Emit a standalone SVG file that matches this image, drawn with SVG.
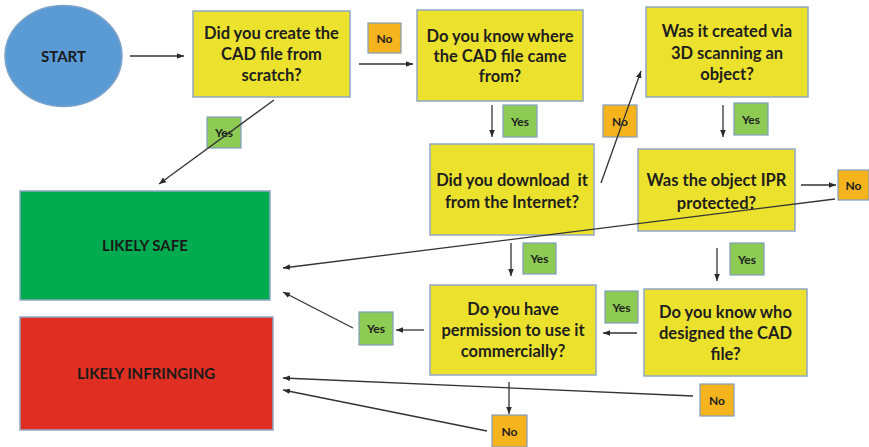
<svg xmlns="http://www.w3.org/2000/svg" width="869" height="447" viewBox="0 0 869 447">
<defs>
<marker id="ah" markerWidth="8" markerHeight="8" refX="7" refY="4" orient="auto" markerUnits="userSpaceOnUse">
<path d="M0,1.2 L7,4 L0,6.8 Z" fill="#2b2b2b"/>
</marker>
</defs>
<style>
.q{fill:#ECE22E;stroke:#8FA8C4;stroke-width:1.5}
.yes{fill:#8DCB55;stroke:#7F9DBF;stroke-width:1.2}
.no{fill:#F5B41E;stroke:#7F9DBF;stroke-width:1.2}
.t{font-family:Lato,"Liberation Sans",sans-serif;font-weight:bold;font-size:16.5px;fill:#1e1e1e;text-anchor:middle}
.s{font-family:Lato,"Liberation Sans",sans-serif;font-weight:bold;font-size:12px;fill:#1e1e1e;text-anchor:middle}
.big{font-family:Lato,"Liberation Sans",sans-serif;font-weight:bold;font-size:15px;fill:#1a1a1a;text-anchor:middle}
.c{stroke:#333;stroke-width:1.3;fill:none;marker-end:url(#ah)}
</style>
<rect width="869" height="447" fill="#fff"/>
<g id="start">
<ellipse cx="63.5" cy="56" rx="58.5" ry="50.5" fill="#5B9BD5" stroke="#7FA3C8" stroke-width="1.5"/>
<text class="big" x="63.5" y="62" font-size="16.5">START</text>
</g>
<g id="q1">
<rect class="q" x="193" y="11" width="157" height="86"/>
<text class="t" x="271.5" y="39">Did you create the</text>
<text class="t" x="271.5" y="60">CAD file from</text>
<text class="t" x="271.5" y="81">scratch?</text>
</g>
<g id="q2">
<rect class="q" x="417" y="10" width="166" height="91"/>
<text class="t" x="500" y="42">Do you know where</text>
<text class="t" x="500" y="62">the CAD file came</text>
<text class="t" x="500" y="82">from?</text>
</g>
<g id="q3">
<rect class="q" x="430" y="144" width="164" height="91"/>
<text class="t" x="512" y="186">Did you download&#160; it</text>
<text class="t" x="512" y="208">from the Internet?</text>
</g>
<g id="q4">
<rect class="q" x="646" y="7" width="162" height="90"/>
<text class="t" x="727" y="37">Was it created via</text>
<text class="t" x="727" y="59">3D scanning an</text>
<text class="t" x="727" y="80">object?</text>
</g>
<g id="q5">
<rect class="q" x="638" y="149" width="157" height="82"/>
<text class="t" x="716.5" y="186">Was the object IPR</text>
<text class="t" x="716.5" y="209">protected?</text>
</g>
<g id="q6">
<rect class="q" x="430" y="285" width="166" height="90"/>
<text class="t" x="513" y="315">Do you have</text>
<text class="t" x="513" y="336">permission to use it</text>
<text class="t" x="513" y="357">commercially?</text>
</g>
<g id="q7">
<rect class="q" x="644" y="289" width="163" height="87"/>
<text class="t" x="725.5" y="318">Do you know who</text>
<text class="t" x="725.5" y="339">designed the CAD</text>
<text class="t" x="725.5" y="360">file?</text>
</g>
<g id="safe">
<rect x="20" y="191" width="250" height="109" fill="#00AC4F" stroke="#8FA8C4" stroke-width="1.5"/>
<text class="big" x="145" y="251">LIKELY SAFE</text>
</g>
<g id="infringing">
<rect x="20" y="317" width="253" height="113" fill="#DE2F22" stroke="#8FA8C4" stroke-width="1.5"/>
<text class="big" x="146" y="379">LIKELY INFRINGING</text>
</g>
<g id="labels">
<g id="no1"><rect class="no" x="368" y="23" width="33" height="30"/><text class="s" x="384.5" y="42.5">No</text></g>
<g id="yes1"><rect class="yes" x="207" y="117" width="34" height="31"/><text class="s" x="224" y="137">Yes</text></g>
<g id="yes2"><rect class="yes" x="503" y="105" width="34" height="32"/><text class="s" x="520" y="125.5">Yes</text></g>
<g id="no2"><rect class="no" x="603" y="105" width="34" height="32"/><text class="s" x="620" y="125.5">No</text></g>
<g id="yes3"><rect class="yes" x="734" y="103" width="34" height="32"/><text class="s" x="751" y="123.5">Yes</text></g>
<g id="no3"><rect class="no" x="838" y="170" width="31" height="30"/><text class="s" x="853.5" y="189.5">No</text></g>
<g id="yes4"><rect class="yes" x="523" y="243" width="33" height="31"/><text class="s" x="539.5" y="263">Yes</text></g>
<g id="yes5"><rect class="yes" x="730" y="243" width="34" height="32"/><text class="s" x="747" y="263.5">Yes</text></g>
<g id="yes6"><rect class="yes" x="605" y="291" width="33" height="32"/><text class="s" x="621.5" y="311.5">Yes</text></g>
<g id="yes7"><rect class="yes" x="359" y="312" width="34" height="33"/><text class="s" x="376" y="333">Yes</text></g>
<g id="no4"><rect class="no" x="700" y="384" width="34" height="32"/><text class="s" x="717" y="404.5">No</text></g>
<g id="no5"><rect class="no" x="492" y="415" width="35" height="32"/><text class="s" x="509.5" y="435.5">No</text></g>
</g>
<g id="connectors">
<line class="c" x1="130" y1="56" x2="184" y2="56"/>
<line class="c" x1="359" y1="64" x2="413" y2="64"/>
<line class="c" x1="274" y1="100" x2="159" y2="184"/>
<line class="c" x1="492" y1="105" x2="492" y2="137"/>
<line class="c" x1="601" y1="183" x2="641" y2="71"/>
<line class="c" x1="723" y1="105" x2="723" y2="137"/>
<line class="c" x1="801" y1="185" x2="836" y2="185"/>
<line class="c" x1="835" y1="199" x2="283" y2="268"/>
<line class="c" x1="511" y1="243" x2="511" y2="276"/>
<line class="c" x1="717" y1="248" x2="717" y2="281"/>
<line class="c" x1="637" y1="333" x2="603" y2="333"/>
<line class="c" x1="424" y1="330" x2="396" y2="330"/>
<line class="c" x1="353" y1="328" x2="283" y2="292"/>
<line class="c" x1="693" y1="396" x2="283" y2="378"/>
<line class="c" x1="509" y1="382" x2="509" y2="414"/>
<line class="c" x1="487" y1="431" x2="283" y2="390"/>
</g>
</svg>
